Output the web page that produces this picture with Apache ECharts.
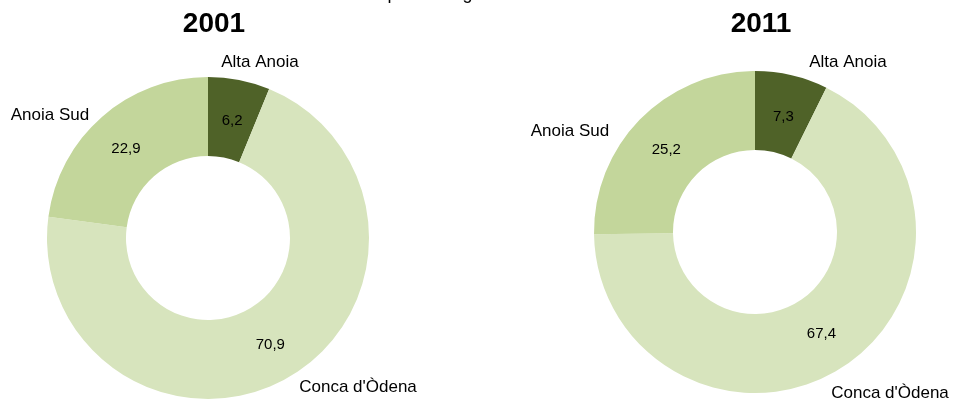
<!DOCTYPE html>
<html>
<head>
<meta charset="utf-8">
<script src="https://cdn.jsdelivr.net/npm/echarts@6/dist/echarts.min.js"></script>
<style>
  html, body { margin: 0; padding: 0; background: #fff; }
  #chart { width: 955px; height: 399px; }
</style>
</head>
<body>
<div id="chart"></div>
<script>
// Population share by comarca area (% of total)
const years = ['2001', '2011'];
const areas = ['Alta Anoia', "Conca d'Òdena", 'Anoia Sud'];
const share2001 = [6.2, 70.9, 22.9];
const share2011 = [7.3, 67.4, 25.2];

const colors = ['#4f6228', '#d7e4bd', '#c3d69b'];
const centers = [[208, 238], [755, 232]];
const titleX = [214, 761];
// Offsets of the area-name labels from each ring's centre
const nameOffsets = [
  [[52, -176], [150, 149], [-158, -123]],
  [[93, -170], [135, 161], [-185, -101]]
];
// Small vertical nudges for the value labels inside the ring
const valueNudge = [[5, -1, 5], [6, -3, 5]];

const fmt = v => v.toFixed(1).replace('.', ',');
const labelFont = 'Liberation Sans';

function ring(idx, values) {
  const data = areas.map((n, i) => ({ name: n, value: values[i], itemStyle: { color: colors[i] } }));
  return [
    {
      type: 'pie',
      center: centers[idx],
      radius: [82, 161],
      startAngle: 90,
      clockwise: true,
      silent: true,
      avoidLabelOverlap: false,
      itemStyle: { borderWidth: 0 },
      label: {
        show: true,
        position: 'inside',
        formatter: p => fmt(p.value),
        color: '#000',
        fontFamily: labelFont,
        fontSize: 15
      },
      labelLine: { show: false },
      labelLayout: p => ({ dy: valueNudge[idx][p.dataIndex] }),
      emphasis: { disabled: true },
      data: data
    },
    {
      type: 'pie',
      center: centers[idx],
      radius: [82, 161],
      startAngle: 90,
      clockwise: true,
      silent: true,
      avoidLabelOverlap: false,
      itemStyle: { color: 'transparent', borderWidth: 0 },
      label: {
        show: true,
        position: 'outside',
        formatter: p => p.name,
        color: '#000',
        fontFamily: labelFont,
        fontSize: 17
      },
      labelLine: { show: false },
      labelLayout: p => {
        const off = nameOffsets[idx][p.dataIndex];
        return {
          x: centers[idx][0] + off[0],
          y: centers[idx][1] + off[1],
          align: 'center',
          verticalAlign: 'middle'
        };
      },
      emphasis: { disabled: true },
      data: areas.map((n, i) => ({ name: n, value: values[i] }))
    }
  ];
}

const titleStyle = { fontFamily: 'Liberation Sans', fontWeight: 'bold', fontSize: 28, fill: '#000',
  align: 'center', verticalAlign: 'middle' };

const chart = echarts.init(document.getElementById('chart'), null, { renderer: 'canvas' });
chart.setOption({
  animation: false,
  graphic: [
    { type: 'text', x: 489, y: 3, silent: true, style: {
      text: 'percentatge sobre el total', fontFamily: 'Liberation Sans', fontSize: 18, fill: '#000',
      align: 'center', verticalAlign: 'bottom' } },
    { type: 'text', x: titleX[0], y: 24, silent: true, style: Object.assign({ text: years[0] }, titleStyle) },
    { type: 'text', x: titleX[1], y: 24, silent: true, style: Object.assign({ text: years[1] }, titleStyle) }
  ],
  series: [...ring(0, share2001), ...ring(1, share2011)]
});
</script>
</body>
</html>
